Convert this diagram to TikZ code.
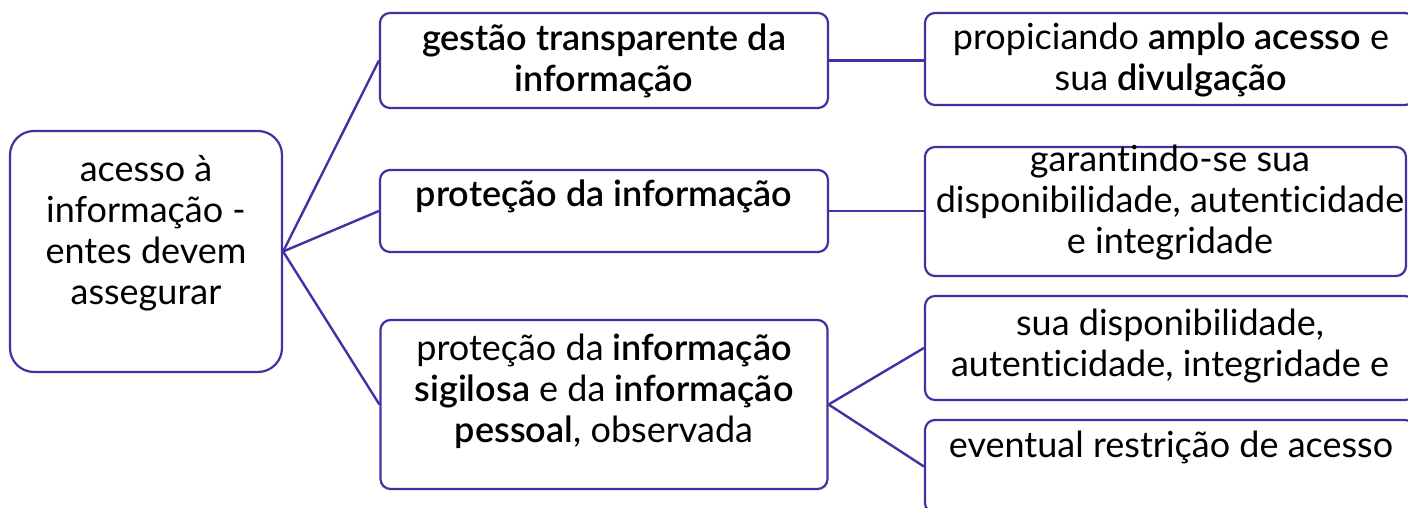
\documentclass[tikz,border=0pt]{standalone}
\usepackage{fontspec}
\setmainfont{Lato}[Ligatures={NoCommon}, BoldFont={Lato Semibold}]
\usepackage{tikz}
\usetikzlibrary{positioning}
\definecolor{linecol}{HTML}{3F33A3}

\begin{document}
\begin{tikzpicture}[x=0.5pt, y=-0.5pt,
    box/.style={draw=linecol, line width=1.1pt, rounded corners=5pt, fill=white, inner sep=0pt},
    txt/.style={align=center, font=\fontsize{18}{20.5}\selectfont, inner sep=0pt},
    link/.style={draw=linecol, line width=1.2pt}]
    \useasboundingbox (0,0) rectangle (1408,508);
    \clip (0,0) rectangle (1408,508);

    % Define nodes
    \node[box, rounded corners=12pt, minimum width=136pt, minimum height=120.5pt] (root) at (146,251.5) {};
    \node[box, minimum width=224pt, minimum height=47.5pt] (gestao) at (604,60.5) {};
    \node[box, minimum width=224pt, minimum height=41pt] (protecao) at (604,211) {};
    \node[box, minimum width=223.5pt, minimum height=84.5pt] (sigilo) at (604,404.5) {};
    \node[box, minimum width=245pt, minimum height=46pt] (acesso) at (1170,59) {};
    \node[box, minimum width=240.5pt, minimum height=64.5pt] (garantia) at (1165.5,211.5) {};
    \node[box, minimum width=245pt, minimum height=52pt] (dispon) at (1170,348) {};
    \node[box, minimum width=245pt, minimum height=46.5pt] (restricao) at (1170,466.5) {};

    % Texts
    \node[txt] (rootT) at (146,233) {acesso à\\informação -\\entes devem\\assegurar};
    \node[txt] (gestaoT) at (604,61) {\textbf{gestão transparente da}\\\textbf{informação}};
    \node[txt] (protecaoT) at (604,196) {\textbf{proteção da informação}};
    \node[txt] (sigiloT) at (604,391) {proteção da \textbf{informação}\\\textbf{sigilosa} e da \textbf{informação}\\\textbf{pessoal}, observada};
    \node[txt] (acessoT) at (1171,60) {propiciando \textbf{amplo acesso} e\\sua \textbf{divulgação}};
    \node[txt] (garantiaT) at (1170,203) {garantindo-se sua\\disponibilidade, autenticidade\\e integridade};
    \node[txt] (disponT) at (1170,346) {sua disponibilidade,\\autenticidade, integridade e};
    \node[txt] (restricaoT) at (1171,447) {eventual restrição de acesso};

    % Draw connectors
    \draw[link] (root.east) -- (gestao.west);
    \draw[link] (root.east) -- (protecao.west);
    \draw[link] (root.east) -- (sigilo.west);
    \draw[link] (gestao.east) -- (acesso.west |- gestao.east);
    \draw[link] (protecao.east) -- (garantia.west |- protecao.east);
    \draw[link] (sigilo.east) -- (dispon.west);
    \draw[link] (sigilo.east) -- (restricao.west);
\end{tikzpicture}
\end{document}
